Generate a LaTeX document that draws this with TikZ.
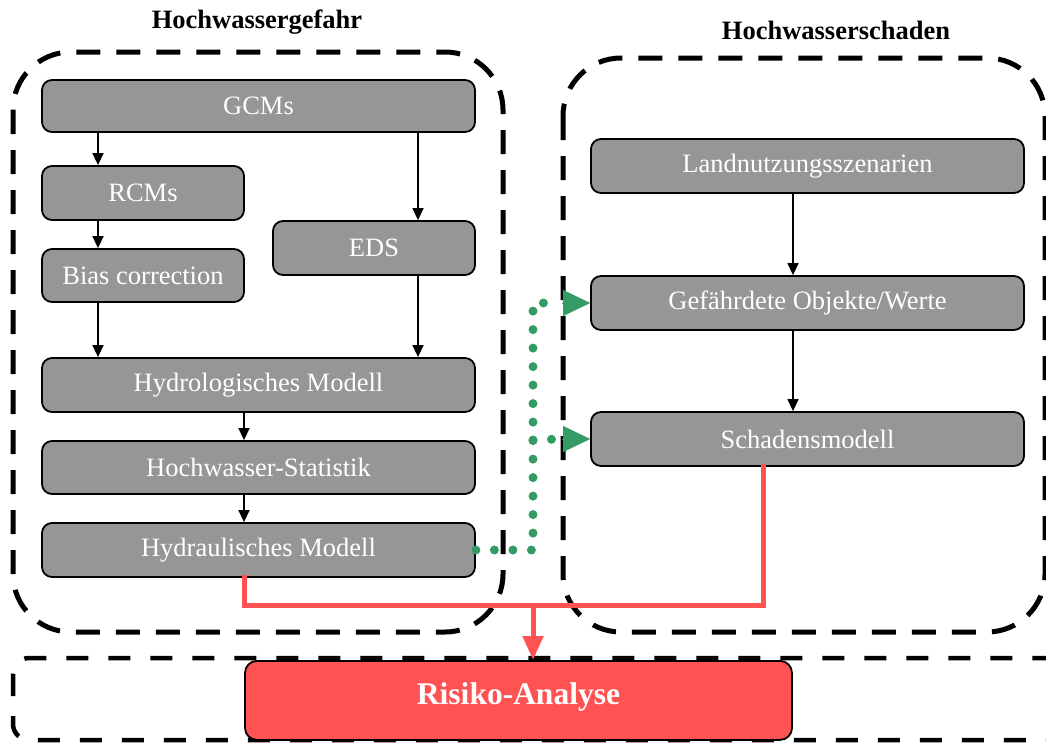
\documentclass[tikz,border=0pt]{standalone}
\usepackage{fontspec}
\setmainfont{Liberation Serif}
\usetikzlibrary{arrows.meta,calc}
\definecolor{boxgray}{RGB}{150,150,150}
\definecolor{riskred}{RGB}{255,82,82}
\definecolor{dotgreen}{RGB}{52,155,100}
\tikzset{
  gbox/.style={draw=black, line width=1.8pt, rounded corners=10pt, fill=boxgray, text=white,
    inner sep=0pt, font=\fontsize{26.5}{30}\selectfont},
  container/.style={draw=black, line width=5pt, dash pattern=on 24pt off 16pt, rounded corners=58pt},
  arr/.style={draw=black, line width=1.4pt, -{Triangle[length=12pt,width=11pt]}},
  redline/.style={draw=riskred, line width=5pt},
  greendot/.style={draw=dotgreen, line width=9pt, line cap=round, dash pattern=on 0pt off 18.5pt},
  greentip/.style={-{Triangle[length=27pt,width=26pt,fill=dotgreen,color=dotgreen]}},
  title/.style={font=\fontsize{26.5}{30}\selectfont\bfseries, text=black}
}
\begin{document}
\begin{tikzpicture}[x=1pt,y=-1pt]
\useasboundingbox (0,0) rectangle (1046,742);
\clip (0,0) rectangle (1046,742);
% containers
\draw[container] (13,52) rectangle (503,632);
\draw[container] (563,58) rectangle (1045,632);
\draw[container, line width=4.5pt, rounded corners=16pt, dash pattern=on 22pt off 20pt] (13,658) rectangle (1100,740);
% titles
\node[title] (t1) at (257,22) {Hochwassergefahr};
\node[title] (t2) at (836,30) {Hochwasserschaden};
% boxes
\node[gbox, minimum width=433pt, minimum height=52pt] (gcm) at (258.5,106) {GCMs};
\node[gbox, minimum width=202pt, minimum height=54pt] (rcm) at (143,193) {RCMs};
\node[gbox, minimum width=202pt, minimum height=53pt] (bias) at (143,275.5) {Bias correction};
\node[gbox, minimum width=202pt, minimum height=54pt] (eds) at (374,248) {EDS};
\node[gbox, minimum width=433pt, minimum height=54pt] (hydro) at (258.5,385) {Hydrologisches Modell};
\node[gbox, minimum width=433pt, minimum height=53pt] (stat) at (258.5,467.5) {Hochwasser-Statistik};
\node[gbox, minimum width=433pt, minimum height=54pt] (hydr) at (258.5,550) {Hydraulisches Modell};
\node[gbox, minimum width=433pt, minimum height=54pt] (land) at (807.5,166) {Landnutzungsszenarien};
\node[gbox, minimum width=433pt, minimum height=54pt] (gef) at (807.5,303) {Gefährdete Objekte/Werte};
\node[gbox, minimum width=433pt, minimum height=54pt] (schad) at (807.5,439) {Schadensmodell};
\node[draw=black, line width=1.8pt, rounded corners=12pt, fill=riskred, text=white,
  minimum width=547pt, minimum height=79pt, inner sep=0pt, anchor=north,
  font=\fontsize{31.5}{34}\selectfont\bfseries] (risk) at (518.5,660) {\raisebox{14pt}{Risiko-Analyse}};
% helper coordinates
\coordinate (cL) at (98,0);
\coordinate (cR) at (418,0);
\coordinate (cM) at (244,0);
\coordinate (cS) at (793,0);
% black arrows
\draw[arr] (gcm.south -| cL) -- (rcm.north -| cL);
\draw[arr] (gcm.south -| cR) -- (eds.north -| cR);
\draw[arr] (rcm.south -| cL) -- (bias.north -| cL);
\draw[arr] (bias.south -| cL) -- (hydro.north -| cL);
\draw[arr] (eds.south -| cR) -- (hydro.north -| cR);
\draw[arr] (hydro.south -| cM) -- (stat.north -| cM);
\draw[arr] (stat.south -| cM) -- (hydr.north -| cM);
\draw[arr] (land.south -| cS) -- (gef.north -| cS);
\draw[arr] (gef.south -| cS) -- (schad.north -| cS);
% green dotted
\coordinate (gj) at (533,550);
\coordinate (gs) at (533,440);
\draw[greendot] (hydr.east) -- (gj) -- (gj |- gef.west) -- ($(gef.west)+(-30,0)$);
\draw[greendot] (gs) -- ($(schad.west)+(-30,0)$);
\path[greentip, draw=dotgreen, line width=0.1pt] ($(gef.west)+(-28,0)$) -- (gef.west);
\path[greentip, draw=dotgreen, line width=0.1pt] ($(schad.west)+(-28,0)$) -- (schad.west);
% red connectors
\coordinate (rj) at (533,605);
\coordinate (rs) at (763,0);
\draw[redline, line cap=rect] (hydr.south -| cM) -- (rj -| cM) -- (rj -| rs) -- (schad.south -| rs);
\draw[redline, -{Triangle[length=24pt,width=20pt]}] (rj) -- (rj |- risk.north);
\end{tikzpicture}
\end{document}
